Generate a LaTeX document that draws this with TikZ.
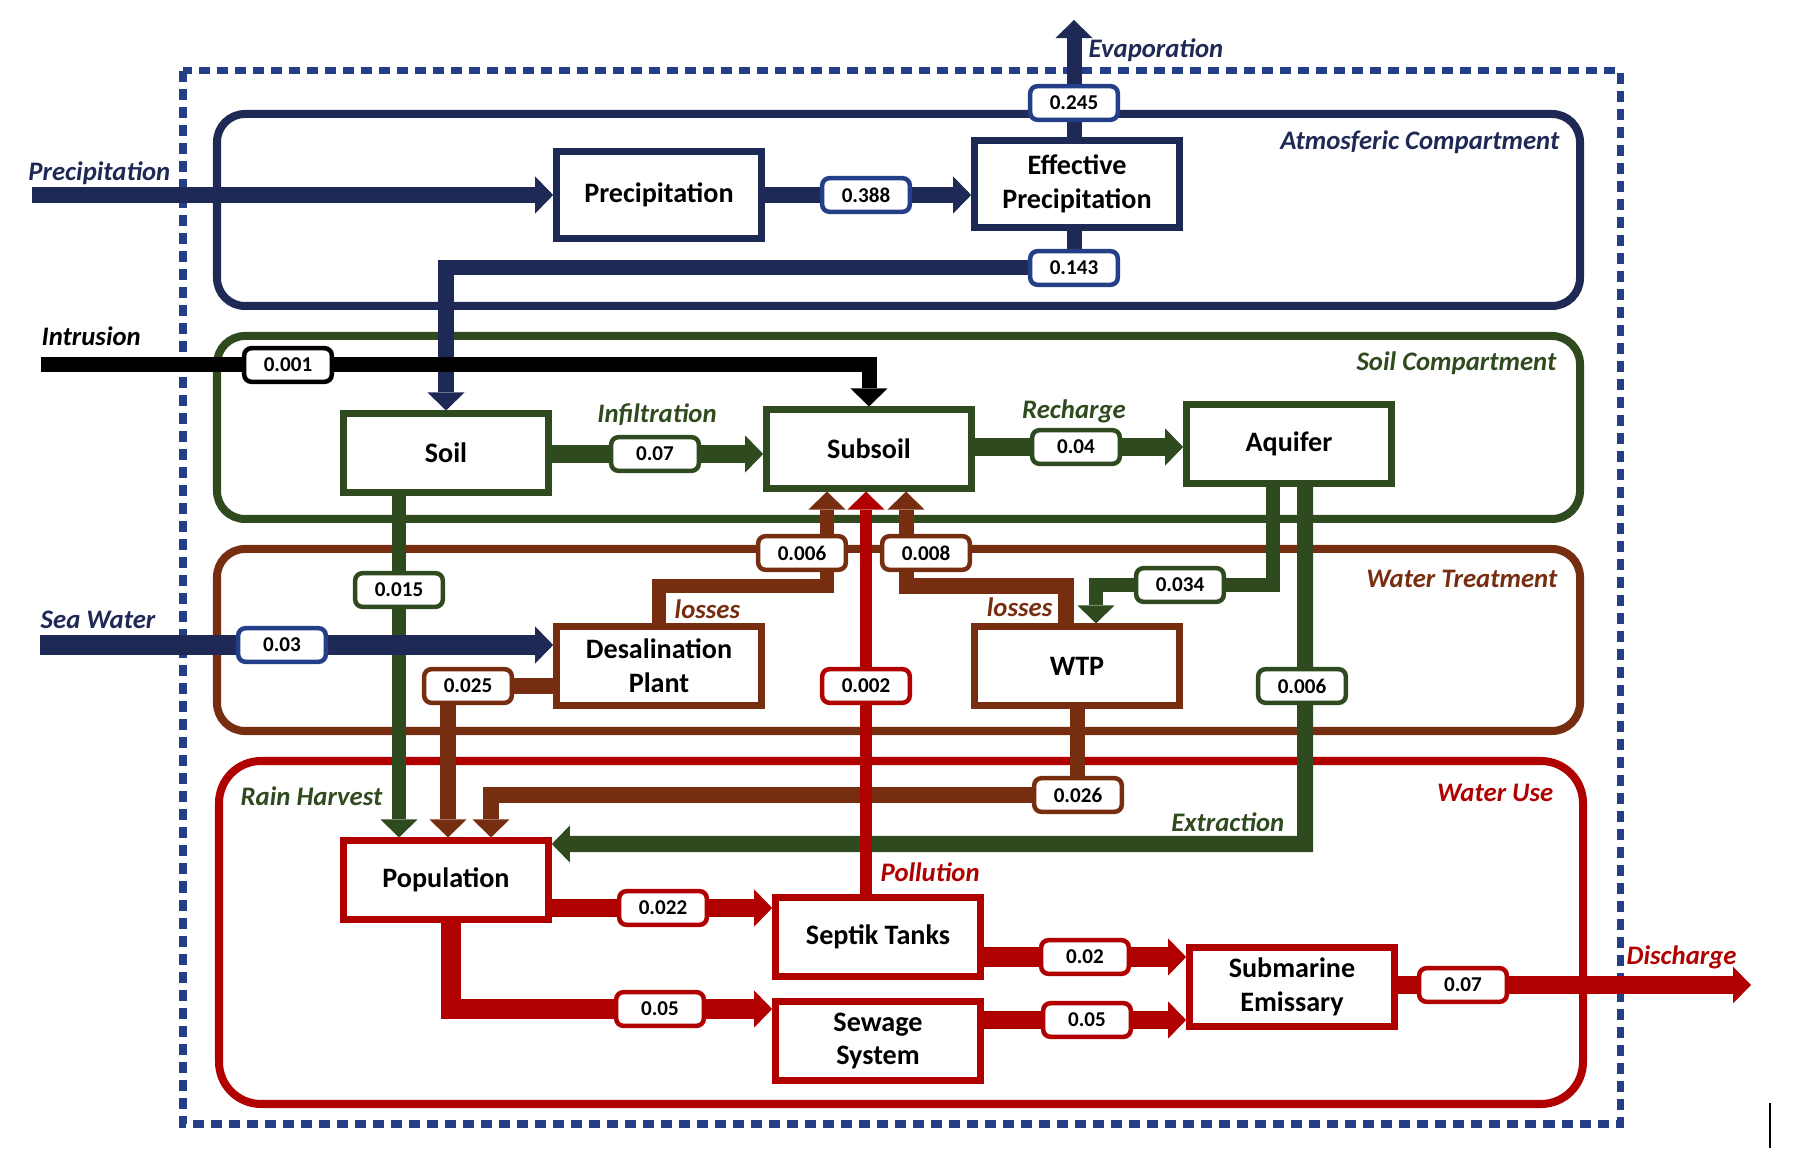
\documentclass[tikz,border=0pt]{standalone}
\usepackage{fontspec}
\setmainfont{Carlito}
\usetikzlibrary{arrows.meta}
\definecolor{navy}{RGB}{30,42,85}
\definecolor{dotblue}{RGB}{36,63,135}
\definecolor{soilgreen}{RGB}{47,74,30}
\definecolor{wtbrown}{RGB}{119,45,15}
\definecolor{usered}{RGB}{176,0,0}
\pgfdeclarelayer{back}
\pgfsetlayers{back,main}
\newcommand\bxfnt{\fontsize{8}{9.6}\selectfont\bfseries}
\newcommand\valfnt{\fontsize{6}{7}\selectfont\bfseries}
\newcommand\labfnt{\fontsize{7.6}{9}\selectfont\bfseries\itshape}
\begin{document}
\begin{tikzpicture}[x=0.01cm,y=-0.01cm,
    box/.style={draw=#1,fill=white,line width=0.065cm,minimum width=2.05cm,minimum height=0.785cm,inner sep=1pt,align=center,font=\bxfnt},
    atmbox/.style={box=#1,minimum height=0.865cm},
    val/.style={draw=#1,fill=white,line width=0.045cm,rounded corners=0.07cm,minimum width=0.875cm,minimum height=0.335cm,inner sep=0pt,font=\valfnt},
    lab/.style={text=#1,font=\labfnt,inner sep=0pt},
    comp/.style={draw=#1,line width=0.08cm,rounded corners=0.28cm},
    flow/.style 2 args={draw=#1,line width=#2,-{Triangle[length=0.18cm,width=0.37cm,line width=0pt]}}]
  \useasboundingbox (0,0) rectangle (1814,1164);
  % compartment boxes
  \node[atmbox=navy] (prec) at (659,195) {Precipitation};
  \node[atmbox=navy] (effp) at (1077,184) {Effective\\Precipitation};
  \node[box=soilgreen] (soil) at (446,453) {Soil};
  \node[box=soilgreen] (subsoil) at (869,449) {Subsoil};
  \node[box=soilgreen] (aquifer) at (1289,444) {Aquifer};
  \node[box=wtbrown] (desal) at (659,666) {Desalination\\Plant};
  \node[box=wtbrown] (wtp) at (1077,666) {WTP};
  \node[box=usered] (pop) at (446,880) {Population};
  \node[box=usered] (septik) at (878,937) {Septik Tanks};
  \node[box=usered] (sewage) at (878,1041) {Sewage\\System};
  \node[box=usered] (subm) at (1292,987) {Submarine\\Emissary};
  % flow values
  \node[val=dotblue] (v388) at (866,195) {0.388};
  \node[val=dotblue] (v245) at (1074,103) {0.245};
  \node[val=dotblue] (v143) at (1074,268) {0.143};
  \node[val=black] (v001) at (288,365) {0.001};
  \node[val=soilgreen] (v07) at (655,454) {0.07};
  \node[val=soilgreen] (v04) at (1076,447) {0.04};
  \node[val=soilgreen] (v015) at (399,590) {0.015};
  \node[val=dotblue] (v03) at (282,645) {0.03};
  \node[val=wtbrown] (v025) at (468,686) {0.025};
  \node[val=wtbrown] (v006a) at (802,553) {0.006};
  \node[val=wtbrown] (v008) at (926,553) {0.008};
  \node[val=soilgreen] (v034) at (1180,585) {0.034};
  \node[val=usered] (v002) at (866,686) {0.002};
  \node[val=soilgreen] (v006b) at (1302,686) {0.006};
  \node[val=wtbrown] (v026) at (1078,795) {0.026};
  \node[val=usered] (v022) at (663,908) {0.022};
  \node[val=usered] (v05a) at (660,1009) {0.05};
  \node[val=usered] (v02) at (1085,957) {0.02};
  \node[val=usered] (v05b) at (1087,1020) {0.05};
  \node[val=usered] (v07b) at (1463,985) {0.07};
  % free ends and bends
  \coordinate (precin) at (32,195);
  \coordinate (evap) at (1074,20);
  \coordinate (intin) at (41,365);
  \coordinate (seain) at (40,645);
  \coordinate (dis) at (1751,985);
  \coordinate (b025) at (448,686);
  \coordinate (b026) at (491,795);
  \coordinate (b006) at (827,586);
  \coordinate (b008) at (906,586);
  \coordinate (b034) at (1096,585);
  \coordinate (bext) at (1305,844);
  \coordinate (b05) at (451,1009);
  % texts
  \node[lab=navy,anchor=east] (tprec) at (171,173) {Precipitation};
  \node[lab=black,anchor=west] (tintr) at (41,336) {Intrusion};
  \node[lab=navy,anchor=west] (tsea) at (40,620) {Sea Water};
  \node[lab=navy,anchor=west] (tevap) at (1088,50) {Evaporation};
  \node[lab=navy,anchor=east] (tatm) at (1560,142) {Atmosferic Compartment};
  \node[lab=soilgreen,anchor=east] (tsoil) at (1557,363) {Soil Compartment};
  \node[lab=wtbrown,anchor=east] (twt) at (1558,579) {Water Treatment};
  \node[lab=usered,anchor=east] (twu) at (1554,793) {Water Use};
  \node[lab=soilgreen] (tinf) at (657,415) {Infiltration};
  \node[lab=soilgreen] (trech) at (1074,411) {Recharge};
  \node[lab=wtbrown,anchor=west] (tloss1) at (674,609) {losses};
  \node[lab=wtbrown,anchor=east] (tloss2) at (1053,607) {losses};
  \node[lab=soilgreen,anchor=east] (train) at (383,796) {Rain Harvest};
  \node[lab=soilgreen,anchor=east] (textr) at (1285,822) {Extraction};
  \node[lab=usered,anchor=west] (tpoll) at (880,872) {Pollution};
  \node[lab=usered,anchor=west] (tdis) at (1626,957) {Discharge};
  \begin{pgfonlayer}{back}
    % system boundary and compartments
    \draw[dotblue,line width=0.07cm,dash pattern=on 0.11cm off 0.07cm] (183,71) rectangle (1620,1124);
    \draw[comp=navy] (217,114) rectangle (1580,306);
    \draw[comp=soilgreen] (217,336) rectangle (1580,519);
    \draw[comp=wtbrown] (217,549) rectangle (1580,731);
    \draw[comp=usered,rounded corners=0.42cm] (219,761) rectangle (1583,1104);
    % atmosphere
    \draw[flow={navy}{0.16cm}] (precin) -- (prec.west);
    \draw[flow={navy}{0.16cm}] (prec.east |- v388) -- (v388 -| effp.west);
    \draw[flow={navy}{0.15cm}] (effp.north -| evap) -- (evap);
    \draw[flow={navy}{0.15cm}] (effp.south -| v143) -- (v143.center) -| (soil.north);
    \draw[flow={black}{0.15cm}] (intin) -- (intin -| subsoil.north) -- (subsoil.north);
    % soil
    \draw[flow={soilgreen}{0.18cm}] (soil.east |- v07) -- (v07 -| subsoil.west);
    \draw[flow={soilgreen}{0.17cm}] (subsoil.east |- v04) -- (v04 -| aquifer.west);
    \draw[flow={soilgreen}{0.14cm}] (soil.south -| v015) -- (v015 |- pop.north);
    \draw[flow={navy}{0.2cm}] (seain) -- (seain -| desal.west);
    % treatment
    \draw[flow={wtbrown}{0.15cm}] (v025 -| desal.west) -- (b025) -- (b025 |- pop.north);
    \draw[flow={wtbrown}{0.15cm}] (wtp.south) -- (wtp.south |- v026) -- (b026) -- (b026 |- pop.north);
    \draw[flow={wtbrown}{0.14cm}] (desal.north) |- (b006) -- (b006 |- subsoil.south);
    \draw[flow={wtbrown}{0.15cm}] ([xshift=-0.11cm]wtp.north) |- (b008) -- (b008 |- subsoil.south);
    \draw[flow={soilgreen}{0.14cm}] ([xshift=-0.16cm]aquifer.south) |- (b034) -- (b034 |- wtp.north);
    \draw[flow={soilgreen}{0.16cm}] ([xshift=0.16cm]aquifer.south) -- (bext) -- (bext -| pop.east);
    % water use
    \draw[flow={usered}{0.12cm}] (septik.north -| v002) -- (v002 |- subsoil.south);
    \draw[flow={usered}{0.17cm}] (pop.east |- v022) -- (v022 -| septik.west);
    \draw[flow={usered}{0.19cm}] (pop.south -| b05) -- (b05) -- (b05 -| sewage.west);
    \draw[flow={usered}{0.2cm}] (septik.east |- v02) -- (v02 -| subm.west);
    \draw[flow={usered}{0.17cm}] (sewage.east |- v05b) -- (v05b -| subm.west);
    \draw[flow={usered}{0.18cm}] (subm.east |- v07b) -- (dis);
  \end{pgfonlayer}
  \draw[line width=0.02cm] (1770,1103) -- (1770,1148);
\end{tikzpicture}
\end{document}
